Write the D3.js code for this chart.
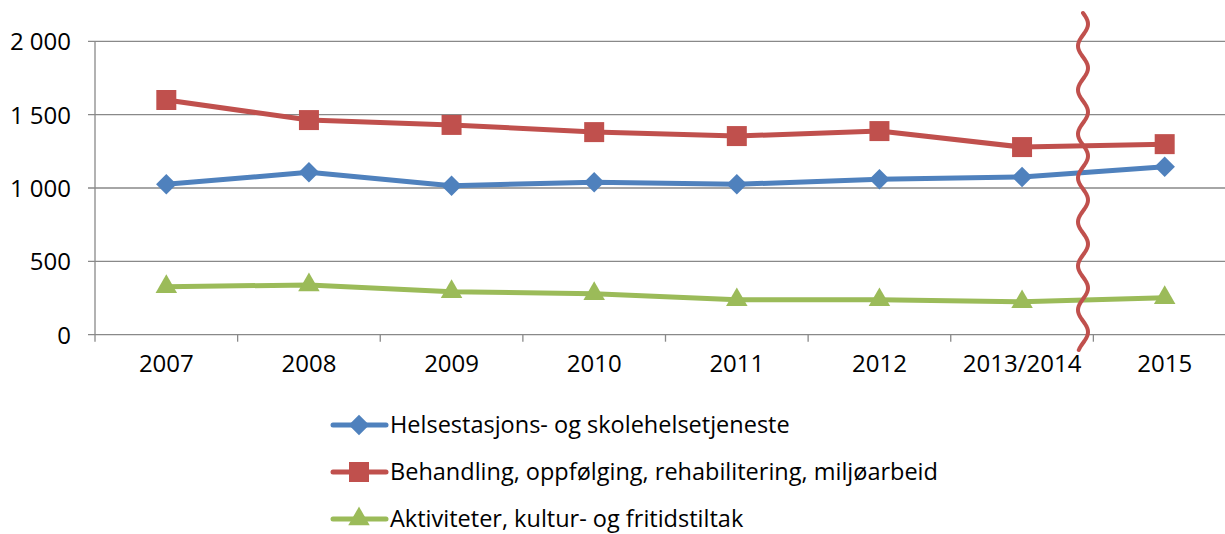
<!DOCTYPE html>
<html><head><meta charset="utf-8">
<script src="https://cdn.jsdelivr.net/npm/d3@7"></script>
<style>body{margin:0;background:#fff}svg{display:block}</style>
</head><body>
<svg id="c" width="1225" height="534"></svg>
<script>
const categories = ["2007","2008","2009","2010","2011","2012","2013/2014","2015"];
const helse = [1025, 1107, 1015, 1040, 1025, 1060, 1075, 1145];
const behandling = [1600, 1463, 1430, 1381, 1354, 1388, 1279, 1299];
const aktiviteter = [327, 339, 293, 279, 238, 238, 224, 252];
const yTicks = [0, 500, 1000, 1500, 2000];
const seriesNames = ["Helsestasjons- og skolehelsetjeneste","Behandling, oppfølging, rehabilitering, miljøarbeid","Aktiviteter, kultur- og fritidstiltak"];

(function(){
const series = [
  {name: seriesNames[0], values: helse, color: "#4F81BD", sym: d3.symbolSquare, size: 210, rot: 45},
  {name: seriesNames[1], values: behandling, color: "#C0504D", sym: d3.symbolSquare, size: 400, rot: 0},
  {name: seriesNames[2], values: aktiviteter, color: "#9BBB59", sym: d3.symbolTriangle, size: 200, rot: 0}
];

const svg = d3.select("#c");
const pL = 95, pR = 1236, pT = 41.3, pB = 334.7;
const x = d3.scaleBand().domain(categories).range([pL, pR]);
const y = d3.scaleLinear().domain([0, 2000]).range([pB, pT]);
const font = "'Open Sans', Lato, sans-serif";
const fmt = d => d === 0 ? "0" : d3.format(",")(d).replace(/,/g, " ");

svg.append("g").selectAll("line").data(yTicks).join("line")
  .attr("x1", pL - 7).attr("x2", 1225)
  .attr("y1", d => y(d)).attr("y2", d => y(d))
  .attr("stroke", "#898989").attr("stroke-width", 1.3);

svg.append("line").attr("x1", pL).attr("x2", pL).attr("y1", pT).attr("y2", pB)
  .attr("stroke", "#898989").attr("stroke-width", 1.3);

const yAx = d3.axisLeft(y).tickValues(yTicks).tickSize(0).tickPadding(0).tickFormat(fmt);
const yg = svg.append("g").attr("transform", `translate(${pL-24},0)`).call(yAx);
yg.select(".domain").remove();
yg.selectAll("text").attr("font-family", font).attr("font-size", 24).attr("fill", "#000")
  .attr("dy", "0.36em");

const bounds = categories.map(c => x(c)).concat([x(categories[categories.length-1]) + x.bandwidth()]);
svg.append("g").selectAll("line").data(bounds).join("line")
  .attr("x1", d => d).attr("x2", d => d).attr("y1", pB).attr("y2", pB + 7)
  .attr("stroke", "#898989").attr("stroke-width", 1.3);

const xAx = d3.axisBottom(x).tickSize(0).tickPadding(0);
const xg = svg.append("g").attr("transform", `translate(0,${pB+20})`).call(xAx);
xg.select(".domain").remove();
xg.selectAll("text").attr("font-family", font).attr("font-size", 24).attr("fill", "#000");

const cx = c => x(c) + x.bandwidth()/2;
const line = d3.line().x((d,i) => cx(categories[i])).y(d => y(d));

series.forEach(s => {
  svg.append("path").attr("d", line(s.values)).attr("fill", "none")
    .attr("stroke", s.color).attr("stroke-width", 5).attr("stroke-linejoin", "round");
  svg.append("g").selectAll("path").data(s.values).join("path")
    .attr("d", d3.symbol().type(s.sym).size(s.size))
    .attr("transform", (d,i) => `translate(${cx(categories[i])},${y(d)}) rotate(${s.rot})`)
    .attr("fill", s.color);
});

const wx = 1083, wy0 = 13, wy1 = 350, period = 44, amp = 5;
const pts = d3.range(wy0, wy1 + 0.5, 1).map(yy => [wx + amp * Math.sin((yy - wy0) / period * 2 * Math.PI), yy]);
svg.append("path").attr("d", d3.line().curve(d3.curveBasis)(pts)).attr("fill", "none")
  .attr("stroke", "#C0504D").attr("stroke-width", 4).attr("stroke-linecap", "round");

const lg = svg.append("g");
series.forEach((s, i) => {
  const yy = 425 + i * 47;
  lg.append("line").attr("x1", 333).attr("x2", 386).attr("y1", yy).attr("y2", yy)
    .attr("stroke", s.color).attr("stroke-width", 5).attr("stroke-linecap", "round");
  lg.append("path").attr("d", d3.symbol().type(s.sym).size(s.size))
    .attr("transform", `translate(359,${yy}) rotate(${s.rot})`).attr("fill", s.color);
  lg.append("text").attr("x", 390).attr("y", yy + 8).attr("font-family", font)
    .attr("font-size", 23.5).attr("fill", "#000").text(s.name);
});
})();
</script>
</body></html>
